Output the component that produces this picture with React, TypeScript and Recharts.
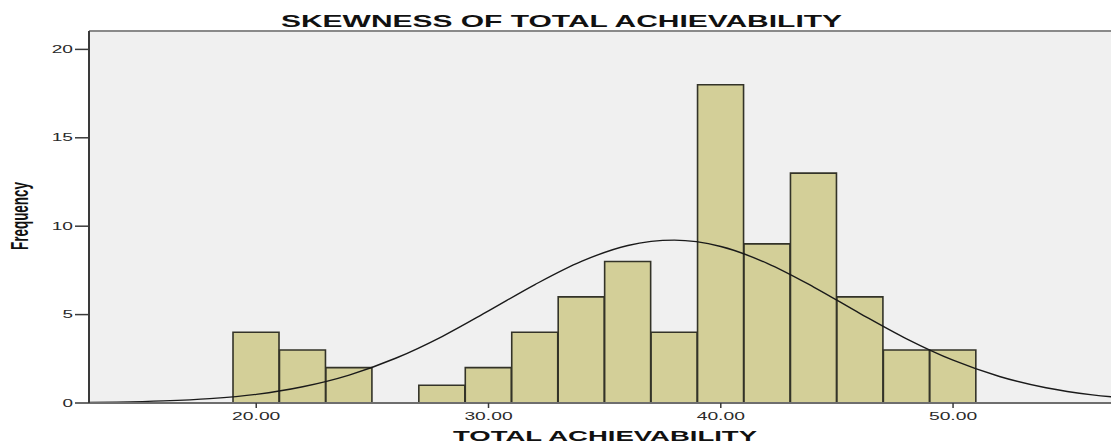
import React from "react";
import {
  ComposedChart,
  Bar,
  Line,
  XAxis,
  YAxis,
  CartesianGrid,
  ReferenceLine,
} from "recharts";

// ---- data ----
const BIN_CENTERS = [20, 22, 24, 28, 30, 32, 34, 36, 38, 40, 42, 44, 46, 48, 50];
const COUNTS = [4, 3, 2, 1, 2, 4, 6, 8, 4, 18, 9, 13, 6, 3, 3];

const CURVE_X = [12, 14, 16, 18, 20, 22, 24, 26, 28, 30, 32, 34, 36, 38, 40, 42, 44, 46, 48, 50, 52, 54, 56, 58];
const CURVE_Y = [0.02, 0.05, 0.12, 0.25, 0.49, 0.92, 1.58, 2.53, 3.76, 5.21, 6.7, 8.01, 8.91, 9.21, 8.85, 7.9, 6.56, 5.06, 3.63, 2.42, 1.5, 0.86, 0.46, 0.23];

const X_TICKS = [20, 30, 40, 50];
const Y_TICKS = [0, 5, 10, 15, 20];
const X_DOMAIN: [number, number] = [12.8, 56.8];
const Y_DOMAIN: [number, number] = [0, 21.04];

const TITLE = "SKEWNESS OF TOTAL ACHIEVABILITY";
const X_LABEL = "TOTAL ACHIEVABILITY";
const Y_LABEL = "Frequency";

const data = CURVE_X.map((x, i) => {
  const bi = BIN_CENTERS.indexOf(x);
  return { x, count: bi >= 0 ? COUNTS[bi] : null, curve: CURVE_Y[i] };
});

const FONT = "'Liberation Sans', Arial, sans-serif";
const NARROW = "'Liberation Sans Narrow', 'Arial Narrow', 'Liberation Sans', sans-serif";

const labelWidth = (s: string) => {
  let w = 0;
  for (const c of s) w += c === "." ? 5 : 10.8;
  return w;
};

const XTick = (props: any) => {
  const { x, y, payload } = props;
  const s = Number(payload.value).toFixed(2);
  return (
    <text
      x={x}
      y={y}
      dy={9.5}
      textAnchor="middle"
      fontFamily={FONT}
      fontSize={11}
      fill="#2a2a2a"
      textLength={labelWidth(s)}
      lengthAdjust="spacingAndGlyphs"
    >
      {s}
    </text>
  );
};

const YTick = (props: any) => {
  const { x, y, payload } = props;
  const s = String(payload.value);
  return (
    <text
      x={x}
      y={y}
      dy={3.7}
      textAnchor="end"
      fontFamily={FONT}
      fontSize={10}
      fill="#2a2a2a"
      textLength={labelWidth(s) - 0.3}
      lengthAdjust="spacingAndGlyphs"
    >
      {s}
    </text>
  );
};

export default function App() {
  return (
    <div
      style={{
        position: "absolute",
        left: 0,
        top: 0,
        width: 1111,
        height: 443,
        background: "#ffffff",
      }}
    >
      <ComposedChart
        width={1111}
        height={443}
        data={data}
        margin={{ top: 31, right: 0, bottom: 0, left: 0 }}
        barCategoryGap={0}
        barGap={0}
      >
        <CartesianGrid fill="#f0f0f0" horizontal={false} vertical={false} />
        <XAxis
          dataKey="x"
          type="number"
          domain={X_DOMAIN}
          allowDataOverflow
          ticks={X_TICKS}
          interval={0}
          height={40}
          tickSize={5}
          tickLine={{ stroke: "#3a3a3a", strokeWidth: 1.5 }}
          axisLine={{ stroke: "#6e6e6e", strokeWidth: 2 }}
          tick={<XTick />}
        />
        <YAxis
          type="number"
          domain={Y_DOMAIN}
          allowDataOverflow
          ticks={Y_TICKS}
          interval={0}
          width={89}
          tickSize={14}
          tickLine={{ stroke: "#3a3a3a", strokeWidth: 1.5 }}
          axisLine={{ stroke: "#3a3a3a", strokeWidth: 2 }}
          tick={<YTick />}
        />
        <ReferenceLine y={Y_DOMAIN[1]} stroke="#8a8a8a" strokeWidth={2} />
        <Bar
          dataKey="count"
          fill="#d3cf98"
          stroke="#333328"
          strokeWidth={1.6}
          isAnimationActive={false}
        />
        <Line
          type="monotone"
          dataKey="curve"
          stroke="#1a1a1a"
          strokeWidth={1.4}
          dot={false}
          activeDot={false}
          isAnimationActive={false}
        />
      </ComposedChart>
      <svg
        width={1111}
        height={443}
        style={{ position: "absolute", left: 0, top: 0, pointerEvents: "none" }}
      >
        <text
          x={281}
          y={27}
          fontFamily={FONT}
          fontWeight="bold"
          fontSize={17}
          fill="#111"
          textLength={561}
          lengthAdjust="spacingAndGlyphs"
        >
          {TITLE}
        </text>
        <text
          x={453}
          y={441}
          fontFamily={FONT}
          fontWeight="bold"
          fontSize={14}
          fill="#111"
          textLength={304}
          lengthAdjust="spacingAndGlyphs"
        >
          {X_LABEL}
        </text>
        <text
          transform="rotate(-90)"
          x={-250}
          y={28}
          fontFamily={NARROW}
          fontWeight="bold"
          fontSize={24}
          fill="#111"
          textLength={68}
          lengthAdjust="spacingAndGlyphs"
        >
          {Y_LABEL}
        </text>
      </svg>
    </div>
  );
}
